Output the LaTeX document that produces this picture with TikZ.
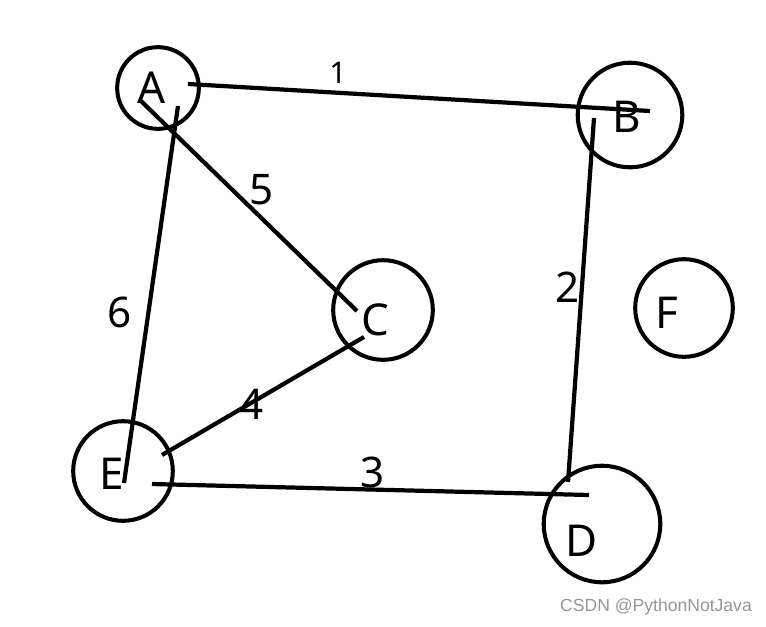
\documentclass[tikz,border=0pt]{standalone}
\usepackage{fontspec}
\setmainfont{Noto Sans}
\newfontfamily\markfont{Liberation Sans}
\usetikzlibrary{positioning}
\definecolor{inkblack}{RGB}{0,0,0}
\definecolor{markgray}{RGB}{150,150,150}
\tikzset{
  vertex/.style={circle, draw=inkblack, line width=2.3pt, inner sep=0pt},
  letter/.style={inner sep=0pt, font=\fontsize{25}{30}\selectfont},
  weight/.style={inner sep=0pt, font=\fontsize{24}{28}\selectfont},
  edge/.style={draw=inkblack, line width=2.4pt},
}

\begin{document}
\begin{tikzpicture}[x=0.02cm, y=-0.02cm]

  \useasboundingbox (0,0) rectangle (766,626);

  % Circles
  \node[vertex, minimum size=82pt*0.567]  (A) at (158,88)  {};
  \node[vertex, minimum size=105pt*0.567] (B) at (630,115) {};
  \node[vertex, minimum size=100pt*0.567] (C) at (383,310) {};
  \node[vertex, minimum size=117pt*0.567] (D) at (602,524) {};
  \node[vertex, minimum size=100pt*0.567] (E) at (123,471) {};
  \node[vertex, minimum size=98pt*0.567]  (F) at (684,308) {};

  % Letters
  \node[letter] (lA) at (152,88)  {A};
  \node[letter] (lB) at (627,117) {B};
  \node[letter] (lC) at (375,320) {C};
  \node[letter] (lD) at (582,541) {D};
  \node[letter] (lE) at (112,474) {E};
  \node[letter] (lF) at (667,313) {F};

  % Line ends
  \coordinate (a-b) at (188,84);  \coordinate (b-a) at (650,111);
  \coordinate (a-c) at (141,101); \coordinate (c-a) at (357,311);
  \coordinate (a-e) at (178,106); \coordinate (e-a) at (124,483);
  \coordinate (c-e) at (364,337); \coordinate (e-c) at (162,455);
  \coordinate (e-d) at (152,484); \coordinate (d-e) at (589,495);
  \coordinate (b-d) at (594,118); \coordinate (d-b) at (568,482);

  % Edges
  \foreach \a/\b in {a-b/b-a, a-c/c-a, a-e/e-a, c-e/e-c, e-d/d-e, b-d/d-b}{
    \draw[edge] (\a) -- (\b);
  }

  % Weights
  \node[weight, font=\fontsize{17}{20}\selectfont] (w1) at (338,73) {1};
  \node[weight] (w5) at (262,190) {5};
  \node[weight] (w6) at (120,312) {6};
  \node[weight] (w4) at (252,404) {4};
  \node[weight] (w3) at (373,472) {3};
  \node[weight] (w2) at (568,287) {2};

  % Watermark
  \node[inner sep=0pt, text=markgray, font=\markfont\fontsize{10}{12}\selectfont] (mark) at (656,607) {CSDN @PythonNotJava};

\end{tikzpicture}
\end{document}
